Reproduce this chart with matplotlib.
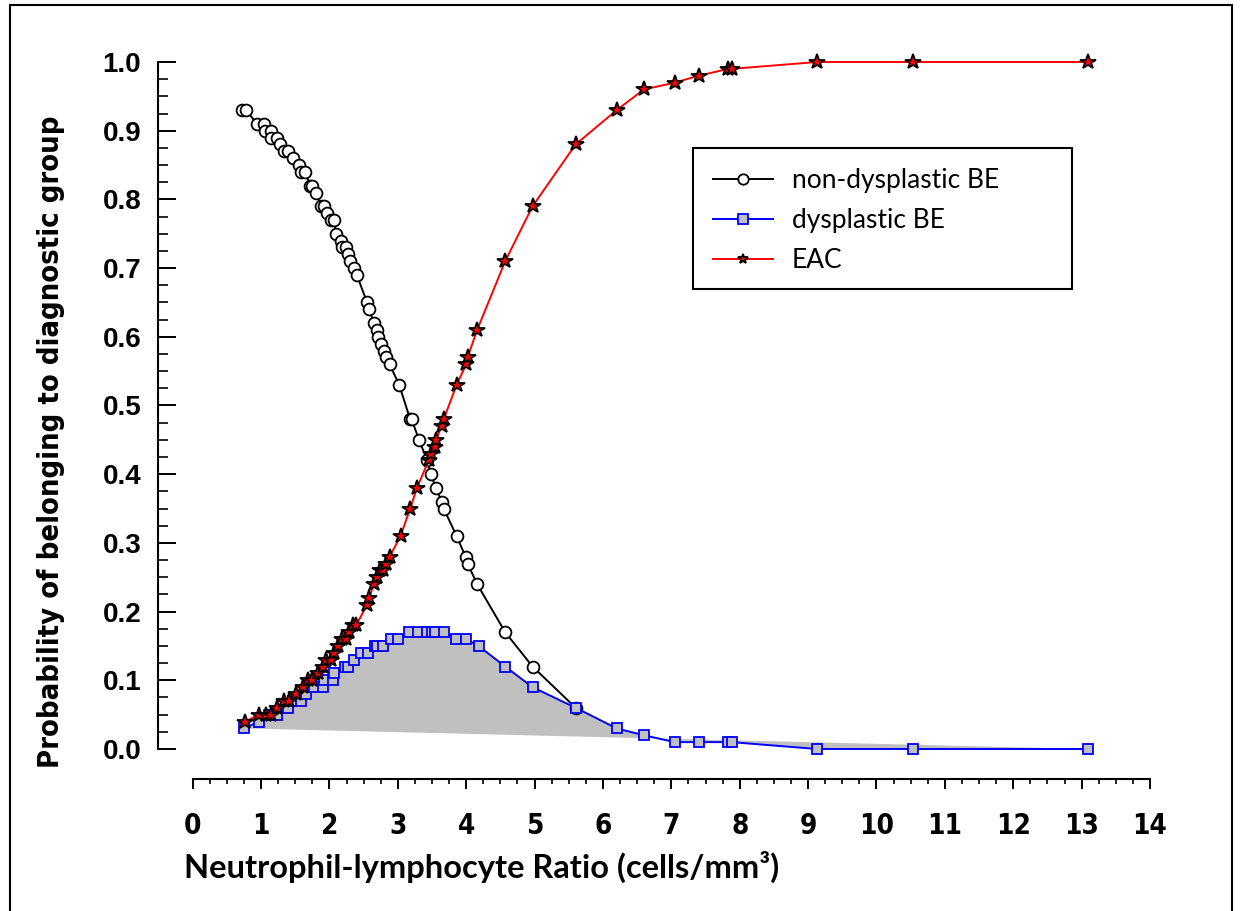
import numpy as np
import matplotlib
matplotlib.use('Agg')
import matplotlib.pyplot as plt
from matplotlib.patches import Rectangle
from matplotlib.ticker import MultipleLocator, FormatStrFormatter
from matplotlib import font_manager

# non-dysplastic BE (circles)
x_nd = [0.72, 0.78, 0.94, 1.05, 1.06, 1.14, 1.15, 1.23, 1.27, 1.34, 1.39, 1.47, 1.56, 1.58,
        1.64, 1.72, 1.75, 1.80, 1.88, 1.92, 1.97, 2.02, 2.06, 2.10, 2.17, 2.19, 2.24, 2.27,
        2.30, 2.36, 2.40, 2.55, 2.58, 2.65, 2.69, 2.71, 2.76, 2.80, 2.83, 2.88, 3.02, 3.18,
        3.20, 3.31, 3.43, 3.48, 3.56, 3.64, 3.67, 3.86, 3.99, 4.02, 4.16, 4.57, 4.97, 5.60]
p_nd = [0.93, 0.93, 0.91, 0.91, 0.90, 0.90, 0.89, 0.89, 0.88, 0.87, 0.87, 0.86, 0.85, 0.84,
        0.84, 0.82, 0.82, 0.81, 0.79, 0.79, 0.78, 0.77, 0.77, 0.75, 0.74, 0.73, 0.73, 0.72,
        0.71, 0.70, 0.69, 0.65, 0.64, 0.62, 0.61, 0.60, 0.59, 0.58, 0.57, 0.56, 0.53, 0.48,
        0.48, 0.45, 0.42, 0.40, 0.38, 0.36, 0.35, 0.31, 0.28, 0.27, 0.24, 0.17, 0.12, 0.06]

# dysplastic BE (squares)
x_dys = [0.75, 0.97, 1.12, 1.24, 1.39, 1.46, 1.58, 1.66, 1.78, 1.90, 1.92, 2.05, 2.07, 2.22,
         2.27, 2.36, 2.46, 2.56, 2.66, 2.70, 2.78, 2.90, 3.00, 3.17, 3.29, 3.43, 3.50, 3.55,
         3.68, 3.85, 4.00, 4.18, 4.57, 4.97, 5.60, 6.20, 6.60, 7.05, 7.40, 7.83, 7.88, 9.13,
         10.53, 13.10]
p_dys = [0.03, 0.04, 0.05, 0.05, 0.06, 0.07, 0.07, 0.08, 0.09, 0.09, 0.10, 0.10, 0.11, 0.12,
         0.12, 0.13, 0.14, 0.14, 0.15, 0.15, 0.15, 0.16, 0.16, 0.17, 0.17, 0.17, 0.17, 0.17,
         0.17, 0.16, 0.16, 0.15, 0.12, 0.09, 0.06, 0.03, 0.02, 0.01, 0.01, 0.01, 0.01, 0.00,
         0.00, 0.00]

# EAC (stars)
x_eac = [0.77, 0.97, 1.07, 1.14, 1.24, 1.34, 1.41, 1.51, 1.61, 1.68, 1.75, 1.83, 1.90, 1.95,
         2.02, 2.07, 2.12, 2.19, 2.24, 2.29, 2.34, 2.39, 2.55, 2.58, 2.65, 2.70, 2.74, 2.79,
         2.83, 2.88, 3.04, 3.18, 3.28, 3.45, 3.48, 3.55, 3.56, 3.64, 3.67, 3.86, 4.00, 4.02,
         4.16, 4.57, 4.97, 5.60, 6.20, 6.60, 7.05, 7.40, 7.83, 7.88, 9.13, 10.53, 13.10]
p_eac = [0.04, 0.05, 0.05, 0.05, 0.06, 0.07, 0.07, 0.08, 0.09, 0.10, 0.10, 0.11, 0.12, 0.13,
         0.13, 0.14, 0.15, 0.16, 0.16, 0.17, 0.18, 0.18, 0.21, 0.22, 0.24, 0.25, 0.26, 0.26,
         0.27, 0.28, 0.31, 0.35, 0.38, 0.42, 0.43, 0.44, 0.45, 0.47, 0.48, 0.53, 0.56, 0.57,
         0.61, 0.71, 0.79, 0.88, 0.93, 0.96, 0.97, 0.98, 0.99, 0.99, 1.00, 1.00, 1.00]

labels = ['non-dysplastic BE', 'dysplastic BE', 'EAC']
x_ticks = list(range(0, 15))

# use a condensed bold face for the y title / x ticks if one is around
cond = font_manager.FontProperties(family='DejaVu Sans', weight='bold', stretch='condensed')
have_cond = 'Condensed' in font_manager.findfont(cond, fallback_to_default=False)

fig = plt.figure(figsize=(12.43, 9.11), dpi=100)
W, H = 1243, 911
ax = fig.add_axes([192.7 / W, 1 - 749 / H, (1150 - 192.7) / W, 687 / H])

# shaded area under the dysplastic curve
ax.fill(x_dys, p_dys, color='#c0c0c0', lw=0, zorder=1, clip_on=False)

ax.plot(x_nd, p_nd, '-', color='black', lw=1.4, marker='o', ms=8.5,
        mfc='white', mec='black', mew=1.3, label=labels[0], zorder=3, clip_on=False)
ax.plot(x_dys, p_dys, '-', color='blue', lw=1.4, marker='s', ms=6.5,
        mfc='#c0c0c0', mec='blue', mew=1.3, label=labels[1], zorder=4, clip_on=False)
ax.plot(x_eac, p_eac, '-', color='red', lw=1.4, marker='*', ms=11.5,
        mfc='red', mec='black', mew=1.3, label=labels[2], zorder=5, clip_on=False)

ax.set_xlim(0, 14)
ax.set_ylim(0, 1)

for s in ['top', 'right']:
    ax.spines[s].set_visible(False)
ax.spines['left'].set_position(('outward', 25))
ax.spines['bottom'].set_position(('outward', 21.6))
ax.spines['left'].set_bounds(0, 1)
ax.spines['bottom'].set_bounds(0, 14)
ax.spines['left'].set_linewidth(1.5)
ax.spines['bottom'].set_linewidth(1.5)

ax.set_xticks(x_ticks)
ax.xaxis.set_minor_locator(MultipleLocator(0.25))
ax.yaxis.set_major_locator(MultipleLocator(0.1))
ax.yaxis.set_minor_locator(MultipleLocator(0.025))
ax.yaxis.set_major_formatter(FormatStrFormatter('%.1f'))

ax.tick_params(axis='y', which='major', direction='in', length=13, width=1.4, pad=12)
ax.tick_params(axis='y', which='minor', direction='in', length=7, width=1.2)
ax.tick_params(axis='x', which='major', direction='out', length=7, width=1.4, pad=16.5)
ax.tick_params(axis='x', which='minor', direction='out', length=3.6, width=1.2)

for t in ax.get_yticklabels():
    t.set_fontfamily('Liberation Sans')
    t.set_fontweight('bold')
    t.set_fontsize(20)
for t in ax.get_xticklabels():
    if have_cond:
        t.set_fontproperties(cond)
        t.set_fontsize(20)
    else:
        t.set_fontfamily('Liberation Sans')
        t.set_fontweight('bold')
        t.set_fontsize(19)

ylab = fig.text(51 / W, 1 - 442 / H, 'Probability of belonging to diagnostic group',
                rotation=90, ha='center', va='center', fontsize=22, fontweight='bold',
                family='Lato')
if have_cond:
    ylab.set_fontproperties(cond)
xlab = fig.text(184 / W, 1 - 878 / H, 'Neutrophil-lymphocyte Ratio (cells/mm³)',
                ha='left', va='baseline', fontsize=21, fontweight='bold', family='Lato')

# size the axis titles to the lengths seen in the original
fig.canvas.draw()
r = fig.canvas.get_renderer()
ylab.set_fontsize(ylab.get_fontsize() * 647 / ylab.get_window_extent(r).height)
xlab.set_fontsize(21 * 596 / xlab.get_window_extent(r).width)

leg = ax.legend(loc='upper left', bbox_to_anchor=(693 / W, 1 - 148 / H),
                bbox_transform=fig.transFigure, frameon=False,
                handlelength=2.3, borderpad=0.75, labelspacing=0.57,
                handletextpad=0.7, borderaxespad=0,
                prop={'family': 'Lato', 'size': 19})
for h in leg.legend_handles:
    h.set_markersize(7.5)

# legend box, drawn separately so it can be as wide as the original
fig.patches.append(Rectangle((693 / W, 1 - 289 / H), (1072 - 693) / W, (289 - 148) / H,
                             transform=fig.transFigure, fill=False, lw=1.5,
                             edgecolor='black', zorder=6))

# outer frame around the figure
fig.patches.append(Rectangle((10 / W, -0.01), (1232 - 10) / W, 1.01 - 5 / H,
                             transform=fig.transFigure, fill=False, lw=1.5,
                             edgecolor='black'))

fig.savefig('out.png', dpi=100)
